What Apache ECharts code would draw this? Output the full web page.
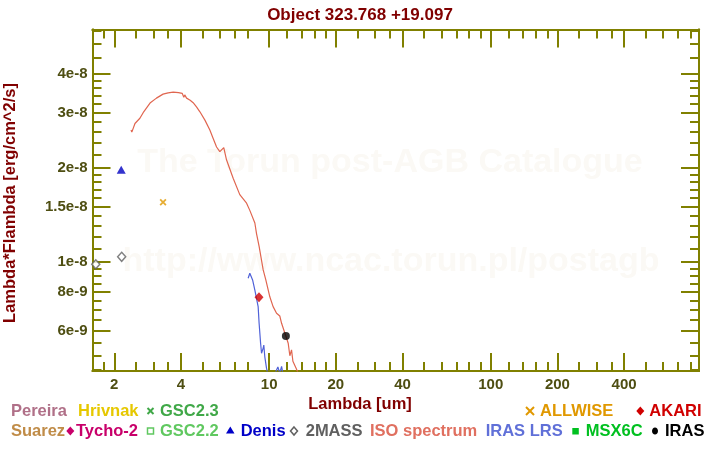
<!DOCTYPE html>
<html><head><meta charset="utf-8">
<script src="https://cdn.jsdelivr.net/npm/echarts@6/dist/echarts.min.js"></script>
<style>html,body{margin:0;padding:0;background:#fff}#c{width:720px;height:450px}</style>
</head><body><div id="c"></div>
<script>
const FONT = '"Liberation Sans", Arial, Helvetica, sans-serif';

// ISO spectrum (lambda in um, lambda*F_lambda in erg/cm^2/s)
const isoLambda = [2.38, 2.40, 2.48, 2.61, 2.70, 2.90, 3.10, 3.32, 3.50, 3.69, 3.90, 4.05, 4.12, 4.16, 4.24, 4.40, 4.54, 4.70, 4.87, 5.13, 5.40, 5.59, 5.79, 5.99, 6.10, 6.24, 6.42, 6.88, 7.00, 7.37, 7.91, 8.18, 8.62, 8.77, 9.01, 9.24, 9.40, 9.66, 10.07, 10.42, 10.80, 10.95, 11.17, 11.38, 11.78, 12.19, 12.40, 12.62, 12.80, 13.06, 13.25, 13.52, 13.70, 13.90];
const isoFlux = [2.64e-8, 2.60e-8, 2.77e-8, 2.88e-8, 3.00e-8, 3.22e-8, 3.34e-8, 3.44e-8, 3.47e-8, 3.49e-8, 3.48e-8, 3.46e-8, 3.36e-8, 3.42e-8, 3.34e-8, 3.29e-8, 3.23e-8, 3.13e-8, 3.02e-8, 2.84e-8, 2.64e-8, 2.48e-8, 2.33e-8, 2.25e-8, 2.22e-8, 2.32e-8, 2.12e-8, 1.85e-8, 1.83e-8, 1.64e-8, 1.54e-8, 1.46e-8, 1.33e-8, 1.23e-8, 1.12e-8, 1.01e-8, 9.41e-9, 8.74e-9, 7.72e-9, 7.18e-9, 6.84e-9, 6.75e-9, 6.70e-9, 6.35e-9, 5.90e-9, 5.48e-9, 5.00e-9, 5.22e-9, 4.80e-9, 4.84e-9, 4.55e-9, 4.50e-9, 4.30e-9, 4.10e-9];

// IRAS LRS spectrum
const lrsLambda = [8.04, 8.18, 8.42, 8.62, 8.92, 9.01, 9.15, 9.24, 9.40, 9.46, 9.56, 9.73, 9.87, 10.2, 10.5, 10.8, 10.95, 11.17, 11.38, 11.6];
const lrsFlux = [8.85e-9, 9.18e-9, 8.74e-9, 8.11e-9, 7.18e-9, 6.35e-9, 5.48e-9, 5.09e-9, 5.29e-9, 5.41e-9, 4.96e-9, 4.56e-9, 4.34e-9, 4.20e-9, 4.30e-9, 4.50e-9, 4.60e-9, 4.40e-9, 4.62e-9, 4.30e-9];

// Photometry [lambda, lambda*F_lambda]
const denisPts = [[2.15, 1.97e-8]];
const twomassPts = [[1.65, 9.81e-9], [2.16, 1.037e-8]];
const allwisePts = [[3.32, 1.55e-8]];
const akariPts = [[9.0, 7.69e-9]];
const irasPts = [[11.9, 5.78e-9]];

// Axes
const xRange = [1.595, 871];
const yRange = [4.467e-9, 5.54e-8];
const xMajorTicks = [2, 4, 10, 20, 40, 100, 200, 400];
const xTickLabels = ['2', '4', '10', '20', '40', '100', '200', '400'];
const xMinorTicks = [1.6, 1.8, 2.5, 3, 3.5, 5, 6, 7, 8, 12, 14, 16, 18, 25, 30, 35, 50, 60, 70, 80, 90, 120, 140, 160, 180, 250, 300, 350, 500, 600, 700, 800];
const yMajorTicks = [6e-9, 8e-9, 1e-8, 1.5e-8, 2e-8, 3e-8, 4e-8];
const yTickLabels = ['6e-9', '8e-9', '1e-8', '1.5e-8', '2e-8', '3e-8', '4e-8'];
const yMinorTicks = [4.5e-9, 5e-9, 5.5e-9, 6.5e-9, 7e-9, 7.5e-9, 8.5e-9, 9e-9, 9.5e-9, 1.1e-8, 1.2e-8, 1.3e-8, 1.4e-8, 1.6e-8, 1.7e-8, 1.8e-8, 1.9e-8, 2.2e-8, 2.4e-8, 2.6e-8, 2.8e-8, 3.2e-8, 3.4e-8, 3.6e-8, 3.8e-8, 4.5e-8, 5e-8, 5.5e-8];

const L = Math.log10;
const AX = '#808000';
const LBL = '#4e4e12';

function labelFor(ticks, labels) {
  return function (v) {
    for (let i = 0; i < ticks.length; i++) if (Math.abs(L(ticks[i]) - v) < 1e-6) return labels[i];
    return '';
  };
}

function axisDef(dim, pos, range, ticks, len, labelInfo) {
  const a = {
    type: 'value', position: pos, min: L(range[0]), max: L(range[1]),
    axisLine: { show: true, onZero: false, lineStyle: { color: AX, width: 2 } },
    axisTick: { show: true, inside: true, length: len, customValues: ticks.map(L), lineStyle: { color: AX, width: 2 } },
    splitLine: { show: false },
    axisLabel: { show: false }
  };
  if (labelInfo) {
    a.axisLabel = {
      show: true, customValues: ticks.map(L), formatter: labelFor(ticks, labelInfo),
      color: LBL, fontSize: 15, fontWeight: 'bold', fontFamily: FONT, margin: dim === 'x' ? 6 : 5,
      hideOverlap: false
    };
  }
  return a;
}

const toXY = (lam, fl) => lam.map((l, i) => [L(l), L(fl[i])]);
const ptsXY = pts => pts.map(p => [L(p[0]), L(p[1])]);

const chart = echarts.init(document.getElementById('c'), null, { renderer: 'canvas' });

const legendRow1 = 411, legendRow2 = 431;
const legendTexts = [
  ['Pereira', 11, legendRow1, '#b07088'],
  ['Hrivnak', 78, legendRow1, '#e6c800'],
  ['GSC2.3', 160, legendRow1, '#40a848'],
  ['ALLWISE', 540, legendRow1, '#e09800'],
  ['AKARI', 649.3, legendRow1, '#d00000'],
  ['Suarez', 11, legendRow2, '#c08c48'],
  ['Tycho-2', 76, legendRow2, '#c8006a'],
  ['GSC2.2', 160, legendRow2, '#60c860'],
  ['Denis', 240.7, legendRow2, '#0000c8'],
  ['2MASS', 305.7, legendRow2, '#606060'],
  ['ISO spectrum', 370, legendRow2, '#e07060'],
  ['IRAS LRS', 485.7, legendRow2, '#6070d8'],
  ['MSX6C', 585.7, legendRow2, '#00c020'],
  ['IRAS', 665, legendRow2, '#000000']
];

const WM = '#fbf9f5';
const graphics = [
  { type: 'text', x: 390, y: 163, z: 0, silent: true, style: { text: 'The Torun post-AGB Catalogue', fill: WM, font: 'bold 34px ' + FONT, align: 'center', verticalAlign: 'middle' } },
  { type: 'text', x: 391, y: 262, z: 0, silent: true, style: { text: 'http://www.ncac.torun.pl/postagb', fill: WM, font: 'bold 34px ' + FONT, align: 'center', verticalAlign: 'middle' } },
  { type: 'text', x: 10, y: 203, rotation: Math.PI / 2, style: { text: 'Lambda*Flambda [erg/cm^2/s]', fill: '#800000', font: 'bold 16.5px ' + FONT, align: 'center', verticalAlign: 'middle' } },
  { type: 'text', x: 360, y: 404, style: { text: 'Lambda [um]', fill: '#800000', font: 'bold 16.5px ' + FONT, align: 'center', verticalAlign: 'middle' } }
];
legendTexts.forEach(t => graphics.push({ type: 'text', x: t[1], y: t[2], style: { text: t[0], fill: t[3], font: 'bold 16.5px ' + FONT, align: 'left', verticalAlign: 'middle' } }));
// legend symbols
function cross(cx, cy, r, color) {
  return { type: 'group', children: [
    { type: 'line', shape: { x1: cx - r, y1: cy - r, x2: cx + r, y2: cy + r }, style: { stroke: color, lineWidth: 2 } },
    { type: 'line', shape: { x1: cx - r, y1: cy + r, x2: cx + r, y2: cy - r }, style: { stroke: color, lineWidth: 2 } }
  ] };
}
function diamond(cx, cy, rx, ry, fill, stroke) {
  return { type: 'polygon', shape: { points: [[cx, cy - ry], [cx + rx, cy], [cx, cy + ry], [cx - rx, cy]] }, style: stroke ? { fill: '#fff', stroke: stroke, lineWidth: 1.5 } : { fill: fill } };
}
graphics.push(cross(150.5, 411, 3, '#40a848'));
graphics.push(cross(530, 411, 4, '#e09800'));
graphics.push(diamond(640.3, 411, 4, 4.5, '#d00000'));
graphics.push(diamond(70.3, 431, 4, 4.5, '#c8006a'));
graphics.push({ type: 'rect', shape: { x: 147.5, y: 428, width: 6, height: 6 }, style: { fill: '#fff', stroke: '#60c860', lineWidth: 1.5 } });
graphics.push({ type: 'polygon', shape: { points: [[230.3, 426.5], [234.5, 433.5], [226, 433.5]] }, style: { fill: '#0000c8' } });
graphics.push(diamond(294, 431, 3.5, 4, null, '#606060'));
graphics.push({ type: 'rect', shape: { x: 572.3, y: 428, width: 6.5, height: 6.5 }, style: { fill: '#00c020' } });
graphics.push({ type: 'ellipse', shape: { cx: 655, cy: 431, rx: 3, ry: 3.6 }, style: { fill: '#000' } });

const option = {
  backgroundColor: '#ffffff',
  animation: false,
  title: { text: 'Object 323.768 +19.097', left: 'center', top: 2, textStyle: { fontSize: 17, fontWeight: 'bold', color: '#800000', fontFamily: FONT } },
  grid: { left: 92.5, right: 21, top: 29.5, bottom: 79, containLabel: false },
  xAxis: [
    axisDef('x', 'bottom', xRange, xMajorTicks, 18, xTickLabels),
    axisDef('x', 'bottom', xRange, xMinorTicks, 9, null),
    axisDef('x', 'top', xRange, xMajorTicks, 18, null),
    axisDef('x', 'top', xRange, xMinorTicks, 9, null)
  ],
  yAxis: [
    axisDef('y', 'left', yRange, yMajorTicks, 18, yTickLabels),
    axisDef('y', 'left', yRange, yMinorTicks, 9, null),
    axisDef('y', 'right', yRange, yMajorTicks, 18, null),
    axisDef('y', 'right', yRange, yMinorTicks, 9, null)
  ],
  graphic: graphics,
  series: [
    { name: 'ISO spectrum', type: 'line', data: toXY(isoLambda, isoFlux), showSymbol: false, symbol: 'none', clip: true, lineStyle: { color: '#e06650', width: 1.2 }, z: 3 },
    { name: 'IRAS LRS', type: 'line', data: toXY(lrsLambda, lrsFlux), showSymbol: false, symbol: 'none', clip: true, lineStyle: { color: '#5062d8', width: 1.2 }, z: 3 },
    { name: 'Denis', type: 'scatter', data: ptsXY(denisPts), symbol: 'triangle', symbolSize: [9, 8], itemStyle: { color: '#0000c0' }, z: 5 },
    { name: '2MASS', type: 'scatter', data: ptsXY(twomassPts), symbol: 'diamond', symbolSize: [8, 9], itemStyle: { color: '#ffffff', borderColor: '#606060', borderWidth: 1.5 }, z: 5 },
    { name: 'ALLWISE', type: 'scatter', data: ptsXY(allwisePts), symbol: 'path://M0,1.8 L1.8,0 L5,3.2 L8.2,0 L10,1.8 L6.8,5 L10,8.2 L8.2,10 L5,6.8 L1.8,10 L0,8.2 L3.2,5 Z', symbolSize: 7, itemStyle: { color: '#e09800' }, z: 5 },
    { name: 'AKARI', type: 'scatter', data: ptsXY(akariPts), symbol: 'diamond', symbolSize: [9, 10], itemStyle: { color: '#d00000' }, z: 5 },
    { name: 'IRAS', type: 'scatter', data: ptsXY(irasPts), symbol: 'circle', symbolSize: 8, itemStyle: { color: '#000000' }, z: 5 }
  ]
};
chart.setOption(option);
</script>
</body></html>
